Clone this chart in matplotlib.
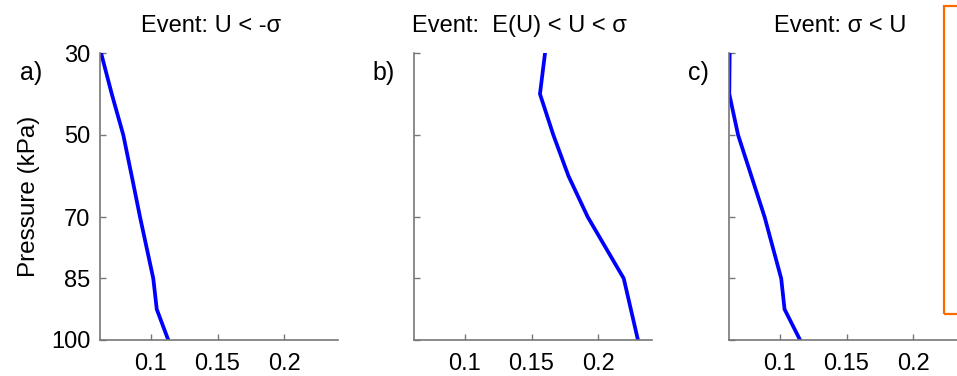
import matplotlib
matplotlib.use("Agg")
import matplotlib.pyplot as plt
from matplotlib.patches import Rectangle

plt.rcParams['font.family'] = ['Liberation Sans', 'DejaVu Sans']

# pressure levels (kPa)
pressure = [30, 40, 50, 60, 70, 85, 92.5, 100]

# profiles
u_low = [0.0630, 0.0710, 0.0796, 0.0859, 0.0921, 0.1020, 0.1046, 0.1132]
u_mid = [0.1601, 0.1563, 0.1663, 0.1776, 0.1920, 0.2189, 0.2242, 0.2295]
u_high = [0.0627, 0.0624, 0.0690, 0.0789, 0.0888, 0.1012, 0.1037, 0.1153]

titles = ["Event: U < -σ", "Event:  E(U) < U < σ", "Event: σ < U"]
panel_labels = ["a)", "b)", "c)"]
profiles = [u_low, u_mid, u_high]

yticks = [30, 50, 70, 85, 100]
xticks = [0.1, 0.15, 0.2]

W, H = 957, 376
fig = plt.figure(figsize=(W / 100, H / 100), dpi=100)
lefts = [100, 414, 729]
title_x = [211, 519, 840]
label_x = [20, 372, 688]
spine_col = "#777777"
fs = 17

for i in range(3):
    ax = fig.add_axes([lefts[i] / W, 36 / H, 238 / W, 287 / H])
    ax.plot(profiles[i], pressure, color="#0000ff", lw=2.7)
    ax.set_xlim(0.0622, 0.24)
    ax.set_ylim(100, 30)
    ax.set_xticks(xticks)
    ax.set_xticklabels(["0.1", "0.15", "0.2"])
    ax.set_yticks(yticks)
    if i == 0:
        ax.set_yticklabels([str(t) for t in yticks])
        ax.set_ylabel("Pressure (kPa)", fontsize=17.5, labelpad=8)
    else:
        ax.set_yticklabels([])
    ax.spines["top"].set_visible(False)
    ax.spines["right"].set_visible(False)
    for s in ["left", "bottom"]:
        ax.spines[s].set_color(spine_col)
        ax.spines[s].set_linewidth(1.2)
    ax.tick_params(direction="in", length=4, width=1, color=spine_col,
                   labelsize=fs)
    ax.tick_params(axis="x", pad=9)
    ax.tick_params(axis="y", pad=7)
    fig.text(title_x[i] / W, 1 - 32 / H, titles[i], fontsize=fs,
             ha="center", va="baseline")
    fig.text(label_x[i] / W, 1 - 73 / H, panel_labels[i], fontsize=18,
             ha="left", va="center")

# partly visible legend box at the right edge
fig.patches.append(Rectangle((944 / W, 62 / H), 0.1, 308 / H,
                             transform=fig.transFigure, fill=False,
                             edgecolor="#ff6a00", lw=1.6))

fig.savefig("out.png", dpi=100)
